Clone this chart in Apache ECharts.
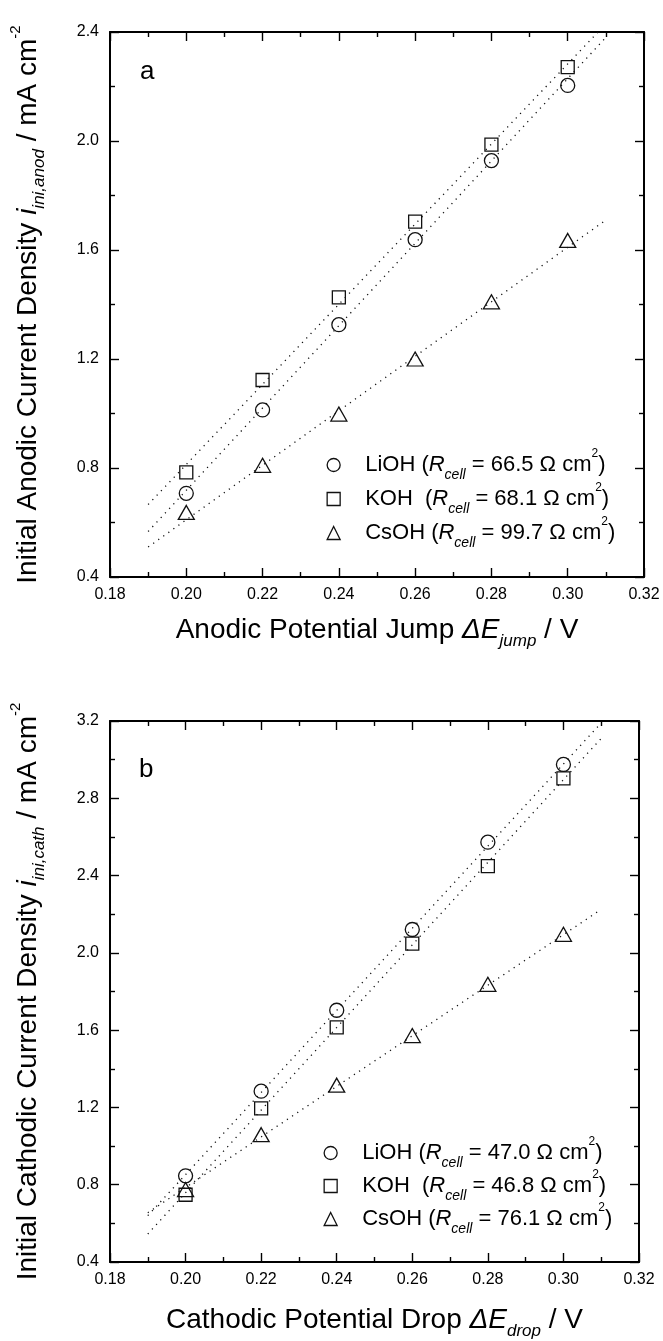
<!DOCTYPE html>
<html><head><meta charset="utf-8">
<script src="https://cdn.jsdelivr.net/npm/echarts@6/dist/echarts.min.js"></script>
<style>html,body{margin:0;padding:0;background:#fff}#c{width:663px;height:1341px}</style>
</head><body><div id="c"></div>
<script>
// ---------- data ----------
const xPoints = [0.20, 0.22, 0.24, 0.26, 0.28, 0.30];
const anodLiOH = [0.707, 1.013, 1.326, 1.638, 1.928, 2.204];
const anodKOH  = [0.784, 1.123, 1.426, 1.704, 1.987, 2.271];
const anodCsOH = [0.637, 0.810, 0.998, 1.200, 1.410, 1.635];
const cathLiOH = [0.846, 1.284, 1.703, 2.121, 2.573, 2.975];
const cathKOH  = [0.748, 1.195, 1.614, 2.048, 2.449, 2.903];
const cathCsOH = [0.775, 1.059, 1.315, 1.572, 1.837, 2.096];
// dotted linear-fit lines (end points)
const fitX = [0.19, 0.31];
const anodFitLiOH = [0.567, 2.380];
const anodFitKOH  = [0.666, 2.430];
const anodFitCsOH = [0.510, 1.710];
const cathFitLiOH = [0.640, 3.190];
const cathFitKOH  = [0.545, 3.110];
const cathFitCsOH = [0.655, 2.225];
const electrolytes = ['LiOH', 'KOH', 'CsOH'];
const anodRcell = ['66.5', '68.1', '99.7'];
const cathRcell = ['47.0', '46.8', '76.1'];
const xTickLabels = ['0.18', '0.20', '0.22', '0.24', '0.26', '0.28', '0.30', '0.32'];
const anodYTickLabels = ['0.4', '0.8', '1.2', '1.6', '2.0', '2.4'];
const cathYTickLabels = ['0.4', '0.8', '1.2', '1.6', '2.0', '2.4', '2.8', '3.2'];

// ---------- style ----------
const F = '"Liberation Sans", Arial, Helvetica, sans-serif';
const BLACK = '#000';
const symbols = ['circle', 'rect', 'triangle'];
const symbolSizes = [14, 13, [16, 14]];

function lookupLabel(arr, v) {
  const s = arr.find(t => Math.abs(parseFloat(t) - v) < 1e-9);
  return s !== undefined ? s : '';
}
function tickStyles() {
  return {
    axisLine: { show: true, onZero: false, lineStyle: { color: BLACK, width: 2 } },
    axisTick: { show: true, inside: true, length: 9, lineStyle: { color: BLACK, width: 1.4 } },
    minorTick: { show: true, splitNumber: 2, length: 5, lineStyle: { color: BLACK, width: 1.4 } },
    splitLine: { show: false },
    minorSplitLine: { show: false }
  };
}
function xAxes(grid, labels) {
  const min = parseFloat(labels[0]), max = parseFloat(labels[labels.length - 1]);
  const base = Object.assign({ type: 'value', gridIndex: grid, min, max, interval: 0.02 }, tickStyles());
  return [
    Object.assign({}, base, { position: 'bottom',
      axisLabel: { show: true, margin: 10, fontFamily: F, fontSize: 16, color: BLACK,
        formatter: v => lookupLabel(labels, v) } }),
    Object.assign({}, base, { position: 'top', axisLabel: { show: false } })
  ];
}
function yAxes(grid, labels) {
  const min = parseFloat(labels[0]), max = parseFloat(labels[labels.length - 1]);
  const base = Object.assign({ type: 'value', gridIndex: grid, min, max, interval: 0.4 }, tickStyles());
  return [
    Object.assign({}, base, { position: 'left',
      axisLabel: { show: true, margin: 11, fontFamily: F, fontSize: 16, color: BLACK,
        formatter: v => lookupLabel(labels, v) } }),
    Object.assign({}, base, { position: 'right', axisLabel: { show: false } })
  ];
}
const nameRich = {
  n: { fontFamily: F, fontSize: 28, color: BLACK, lineHeight: 40 },
  i: { fontFamily: F, fontSize: 28, fontStyle: 'italic', color: BLACK, lineHeight: 40 },
  s: { fontFamily: F, fontSize: 17, fontStyle: 'italic', color: BLACK, lineHeight: 14, verticalAlign: 'bottom' },
  p: { fontFamily: F, fontSize: 15, color: BLACK, lineHeight: 20, verticalAlign: 'top' }
};
const legendRich = {
  n0: { fontFamily: F, fontSize: 22, color: BLACK, lineHeight: 34, padding: [0, 0, 0, 20] },
  n: { fontFamily: F, fontSize: 22, color: BLACK, lineHeight: 34 },
  i: { fontFamily: F, fontSize: 22, fontStyle: 'italic', color: BLACK, lineHeight: 34 },
  s: { fontFamily: F, fontSize: 14, fontStyle: 'italic', color: BLACK, lineHeight: 12, verticalAlign: 'bottom' },
  p: { fontFamily: F, fontSize: 12, color: BLACK, lineHeight: 20, verticalAlign: 'top' }
};

const xA = xAxes(0, xTickLabels).concat(xAxes(1, xTickLabels));
const yA = yAxes(0, anodYTickLabels).concat(yAxes(1, cathYTickLabels));
// axis titles
Object.assign(xA[0], { name: '{n|Anodic Potential Jump }{i|ΔE}{s|jump}{n| / V}', nameLocation: 'middle', nameGap: 33, nameTextStyle: { rich: nameRich } });
Object.assign(xA[2], { name: '{n|Cathodic Potential Drop }{i|ΔE}{s|drop}{n| / V}', nameLocation: 'middle', nameGap: 38, nameTextStyle: { rich: nameRich } });
Object.assign(yA[0], { name: '{n|Initial Anodic Current Density }{i|i}{s|ini,anod}{n| / mA cm}{p|-2}', nameLocation: 'middle', nameRotate: 90, nameGap: 62, nameTextStyle: { rich: nameRich } });
Object.assign(yA[2], { name: '{n|Initial Cathodic Current Density }{i|i}{s|ini,cath}{n| / mA cm}{p|-2}', nameLocation: 'middle', nameRotate: 90, nameGap: 62, nameTextStyle: { rich: nameRich } });

const panels = [
  { key: 'a', xi: 0, yi: 0, vals: [anodLiOH, anodKOH, anodCsOH], fits: [anodFitLiOH, anodFitKOH, anodFitCsOH], r: anodRcell },
  { key: 'b', xi: 2, yi: 2, vals: [cathLiOH, cathKOH, cathCsOH], fits: [cathFitLiOH, cathFitKOH, cathFitCsOH], r: cathRcell }
];
const series = [];
panels.forEach(p => {
  electrolytes.forEach((e, k) => {
    series.push({
      type: 'line', name: p.key + '-fit-' + e, xAxisIndex: p.xi, yAxisIndex: p.yi,
      data: fitX.map((x, i) => [x, p.fits[k][i]]), symbol: 'none', clip: true, silent: true,
      lineStyle: { type: [1.2, 5], width: 1.3, color: '#111' }, z: 2
    });
  });
  electrolytes.forEach((e, k) => {
    series.push({
      type: 'scatter', name: p.key + '-' + e, xAxisIndex: p.xi, yAxisIndex: p.yi,
      data: xPoints.map((x, i) => [x, p.vals[k][i]]), symbol: symbols[k], symbolSize: symbolSizes[k],
      itemStyle: { color: 'rgba(0,0,0,0)', borderColor: '#111', borderWidth: 1.3, opacity: 1 }, z: 3, silent: true
    });
  });
});
function legendFor(p, top, left, gap) {
  return {
    data: electrolytes.map((e, k) => ({ name: p.key + '-' + e, icon: symbols[k] })),
    orient: 'vertical', left, top, itemWidth: 13, itemHeight: 13, itemGap: gap, padding: 0,
    selectedMode: false,
    itemStyle: { color: 'rgba(0,0,0,0)', borderColor: '#111', borderWidth: 1.3 },
    formatter: name => {
      const k = electrolytes.indexOf(name.slice(2));
      const el = electrolytes[k] + (electrolytes[k] === 'KOH' ? '  (' : ' (');
      return '{n0|' + el + '}{i|R}{s|cell}{n| = ' + p.r[k] + ' Ω cm}{p|2}{n|)}';
    },
    textStyle: { fontFamily: F, fontSize: 22, color: BLACK, rich: legendRich }
  };
}

const chart = echarts.init(document.getElementById('c'), null, { renderer: 'canvas' });
chart.setOption({
  animation: false,
  backgroundColor: '#fff',
  grid: [
    { left: 101, top: 32, width: 543, height: 545, containLabel: false },
    { left: 102, top: 721, width: 537, height: 541, containLabel: false }
  ],
  xAxis: xA,
  yAxis: yA,
  legend: [legendFor(panels[0], 448, 326.5, 0), legendFor(panels[1], 1136, 323.5, -1)],
  graphic: [
    { type: 'text', x: 140, y: 72, style: { text: 'a', fontFamily: F, fontSize: 26, fill: BLACK, verticalAlign: 'middle' } },
    { type: 'text', x: 139, y: 770, style: { text: 'b', fontFamily: F, fontSize: 26, fill: BLACK, verticalAlign: 'middle' } }
  ],
  series
});
</script></body></html>
